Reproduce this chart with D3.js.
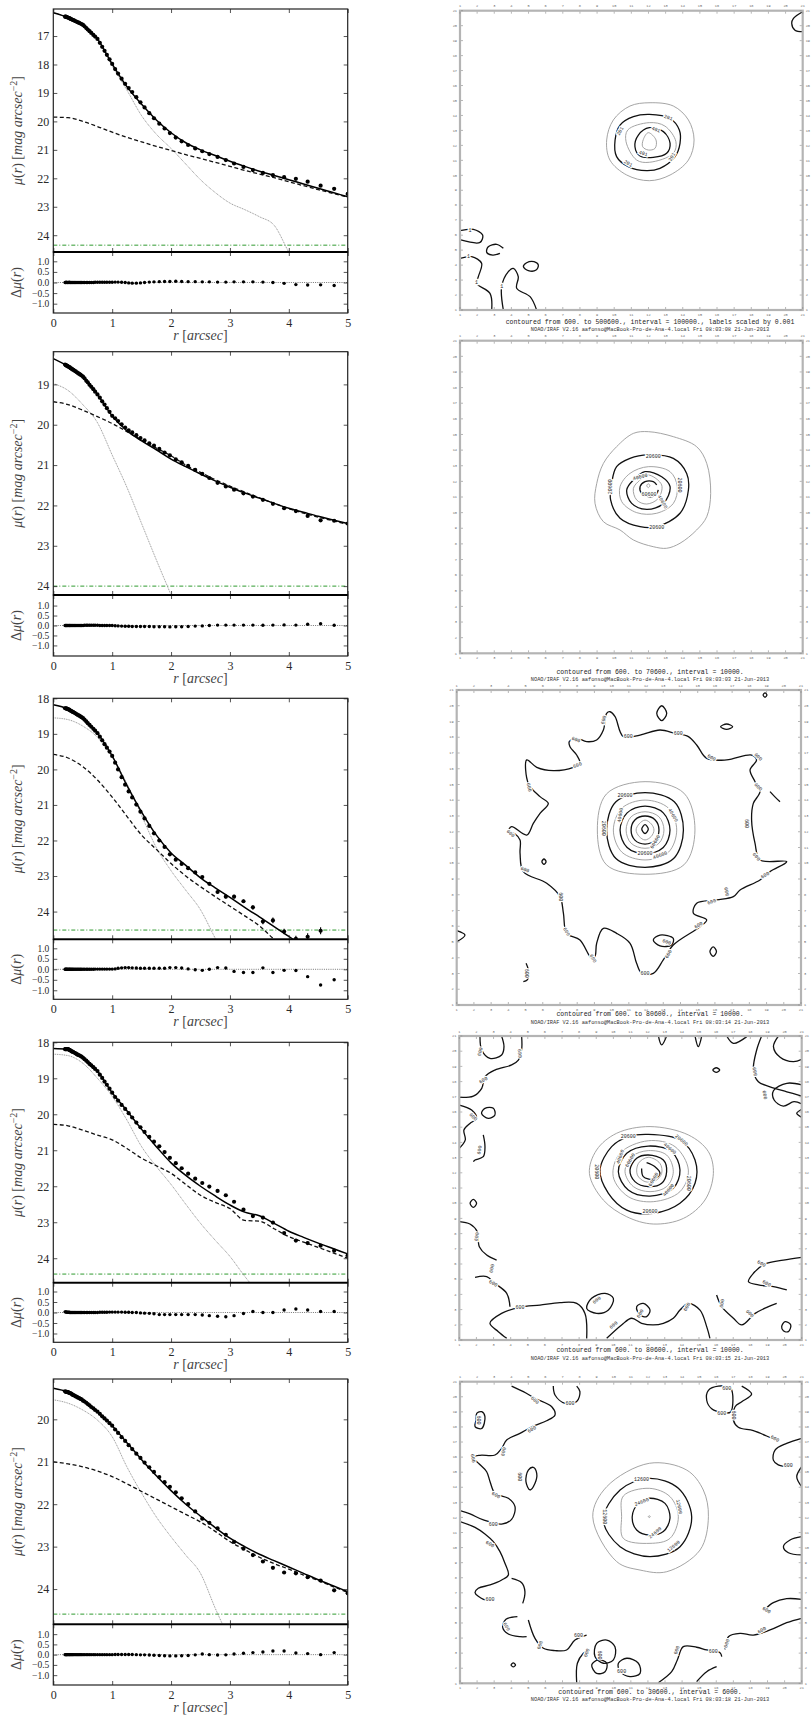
<!DOCTYPE html>
<html>
<head>
<meta charset="utf-8">
<script src="https://cdn.jsdelivr.net/npm/d3@7"></script>
<style>
body{margin:0;background:#fff;}
svg{display:block;}
.tk text{font-family:"Liberation Serif",serif;font-size:12px;fill:#2a2a2a;}
.tk.rs text{font-size:9.5px;}
.tk line{stroke:#2a2a2a;stroke-width:0.8;}
</style>
</head>
<body>
<script>
// ---- surface brightness profiles (left column) ----
var radii=[0.20,0.21,0.22,0.23,0.24,0.255,0.27,0.28,0.295,0.31,0.325,0.34,0.36,0.38,0.40,0.42,0.44,0.46,0.48,0.505,
0.53,0.56,0.585,0.615,0.645,0.68,0.71,0.75,0.79,0.83,0.87,0.91,0.955,1.00,1.05,1.10,1.16,1.22,1.28,1.34,
1.41,1.48,1.55,1.63,1.71,1.80,1.89,1.98,2.08,2.18,2.29,2.41,2.53,2.65,2.79,2.93,3.07,3.23,3.39,3.56,
3.73,3.92,4.12,4.32,4.54,4.77,5.00];

var mu1=[16.32,16.32,16.33,16.34,16.34,16.36,16.37,16.38,16.40,16.41,16.43,16.44,16.46,16.48,16.50,16.52,16.54,16.56,16.58,16.61,
16.66,16.72,16.77,16.83,16.89,16.96,17.02,17.10,17.24,17.38,17.52,17.66,17.82,17.98,
18.16,18.32,18.50,18.68,18.83,18.97,19.15,19.33,19.51,19.71,19.89,20.08,20.25,20.41,20.57,20.70,
20.83,20.95,21.05,21.15,21.25,21.36,21.48,21.60,21.71,21.81,21.89,21.96,22.02,22.12,22.26,22.37,22.55];
var res1=[0,0,0.01,0,0,0,0.01,0,0,0,0,0,0,0,0,0,0,0,0,0,0,0,0,0,0,0,0.01,0.01,0.01,0.01,0.01,0.01,0.01,0.01,
0.02,0.02,0.01,0,-0.02,-0.03,-0.03,-0.02,0,0.02,0.03,0.04,0.05,0.05,0.06,0.05,0.04,0.04,0.03,0.03,
0.02,0.02,0.03,0.03,0.03,0.02,0,-0.04,-0.1,-0.12,-0.11,-0.14,null];

var mu2=[18.51,18.52,18.53,18.54,18.54,18.56,18.57,18.58,18.60,18.61,18.63,18.64,18.66,18.68,18.70,18.72,18.74,18.76,18.78,18.81,
18.85,18.91,18.95,19.01,19.06,19.12,19.18,19.25,19.33,19.42,19.50,19.59,19.68,19.78,
19.84,19.91,19.99,20.07,20.14,20.19,20.26,20.33,20.39,20.46,20.52,20.60,20.69,20.76,20.86,20.93,
21.02,21.12,21.22,21.32,21.44,21.53,21.61,21.70,21.78,21.86,21.96,22.07,22.14,22.26,22.37,22.38,22.45];
var res2=[0,0,0,0,0,0,0,0,0,0,0,0,0,0,0,0,0,0,0,0,0.01,0.01,0.01,0.01,0.01,0.01,0.01,0.01,0,0,0,0,0,0,
-0.01,-0.02,-0.03,-0.04,-0.04,-0.05,-0.05,-0.05,-0.05,-0.05,-0.06,-0.06,-0.06,-0.07,-0.06,-0.06,-0.05,-0.03,-0.02,0,
0.02,0.02,0.02,0.02,0.02,0.01,0.02,0.03,0.02,0.06,0.09,0.01,null];

var mu3=[18.28,18.28,18.29,18.29,18.30,18.31,18.32,18.33,18.35,18.36,18.38,18.39,18.41,18.43,18.45,18.47,18.49,18.51,18.53,18.56,
18.60,18.65,18.70,18.75,18.80,18.86,18.91,18.98,19.08,19.18,19.29,19.39,19.50,19.62,
19.81,20.00,20.22,20.43,20.62,20.79,20.99,21.19,21.38,21.59,21.80,22.00,22.18,22.39,22.54,22.66,
22.78,22.90,23.03,23.22,23.45,23.58,23.58,23.71,23.88,24.28,24.25,24.56,24.77,24.71,24.54,25.02,null];
var res3=[0,0,0,0,0,0,0,0,0,0,0,0,0,0,0,0,0,0,0,0,0,0,0,0,0,0,0.01,0.01,0.01,0.01,0.01,0.01,0.01,0.01,
0.02,0.05,0.07,0.08,0.08,0.07,0.06,0.05,0.05,0.05,0.05,0.05,0.05,0.08,0.08,0.06,0.02,-0.02,-0.05,0,
0.08,0.06,-0.1,-0.15,-0.15,0.07,-0.15,-0.05,-0.06,-0.35,-0.75,-0.5,null];
var err3=[0,0,0,0,0,0,0,0,0,0,0,0,0,0,0,0,0,0,0,0,0,0,0,0,0,0,0,0,0,0,0,0,0,0,
0,0,0,0,0,0,0,0,0,0,0,0,0,0,0,0,0,0,0.03,0.03,
0.04,0.05,0.05,0.05,0.06,0.08,0.08,0.08,0.09,0.1,0.1,0.12,0];

var mu4=[18.19,18.19,18.19,18.19,18.19,18.19,18.21,18.22,18.23,18.25,18.26,18.27,18.29,18.31,18.33,18.35,18.36,18.38,18.40,18.43,
18.47,18.51,18.55,18.60,18.64,18.69,18.74,18.80,18.90,18.99,19.09,19.18,19.29,19.40,
19.52,19.62,19.74,19.85,19.97,20.09,20.23,20.36,20.49,20.63,20.76,20.89,21.05,21.21,21.36,21.50,
21.65,21.79,21.91,22.01,22.13,22.25,22.43,22.65,22.83,22.87,23.01,23.30,23.51,23.58,23.65,23.79,23.92];
var res4=[0.03,0.03,0.02,0.02,0.01,0.01,0.01,0,0,0,0,0,0,0,0,0,0,0,0,0,0,0,0,0,0,0,0,0,0.01,0.01,0.01,0.01,0.02,0.02,
0.02,0.02,0.02,0.01,0.01,0,0,-0.02,-0.03,-0.04,-0.06,-0.1,-0.1,-0.1,-0.1,-0.1,-0.1,-0.1,-0.12,-0.15,
-0.18,-0.2,-0.15,-0.05,0.05,0,0,0.12,0.17,0.12,0.05,0.05,null];

var mu5=[19.34,19.35,19.35,19.35,19.36,19.36,19.38,19.38,19.39,19.40,19.42,19.43,19.44,19.46,19.47,19.49,19.50,19.52,19.53,19.56,
19.58,19.61,19.64,19.67,19.71,19.74,19.78,19.82,19.87,19.93,19.98,20.03,20.09,20.15,
20.24,20.32,20.42,20.51,20.61,20.70,20.81,20.91,21.02,21.13,21.24,21.36,21.48,21.59,21.72,21.86,
22.00,22.17,22.34,22.44,22.57,22.72,22.89,23.05,23.20,23.35,23.50,23.61,23.63,23.72,23.80,24.03,24.10];
var res5=[0,0,0,0,0,0,0,0,0,0,0,0,0,0,0,0,0,0,0,0,0,0,0,0,0,0,0,0,0,0,0,0,0,0,
0.01,0.01,0.01,0.01,0.01,0.01,0,-0.01,-0.01,-0.02,-0.03,-0.04,-0.05,-0.06,-0.06,-0.05,-0.04,-0.01,0.03,0,
-0.02,-0.01,0.03,0.07,0.1,0.13,0.18,0.18,0.08,0.05,0,0.1,null];

// model components sampled on a coarse radius grid
var knot_r=[0,0.25,0.5,0.75,1,1.25,1.5,1.75,2,2.25,2.5,2.75,3,3.25,3.5,3.75,4,4.25,4.5,4.75,5];
var solid1=[16.18,16.35,16.6,17.1,17.98,18.78,19.4,19.95,20.4,20.75,21.0,21.2,21.4,21.58,21.75,21.9,22.05,22.2,22.35,22.5,22.65];
var dashed1=[19.85,19.87,20.0,20.18,20.38,20.56,20.72,20.88,21.02,21.17,21.3,21.44,21.58,21.72,21.85,21.98,22.12,22.26,22.4,22.53,22.66];
var dotted1=[16.18,16.35,16.6,17.1,18.05,18.9,19.8,20.45,20.95,21.5,22.05,22.5,22.87,23.1,23.35,23.65,24.6,25.5,26.3,27,27.6];
var solid2=[18.36,18.55,18.8,19.25,19.78,20.15,20.4,20.62,20.85,21.04,21.22,21.39,21.55,21.69,21.82,21.95,22.07,22.17,22.27,22.36,22.45];
var dashed2=[19.43,19.5,19.64,19.8,19.97,20.17,20.38,20.58,20.77,21.0,21.18,21.36,21.52,21.67,21.81,21.95,22.08,22.19,22.29,22.38,22.47];
var dotted2=[18.98,19.15,19.5,19.95,20.75,21.55,22.45,23.35,24.22,25.1,26,26.9,27.8,28.6,29.4,30.2,31,31.8,32.6,33.4,34.2];
var solid3=[18.18,18.3,18.55,18.98,19.62,20.45,21.2,21.85,22.35,22.7,23.05,23.33,23.6,23.88,24.15,24.42,24.7,24.98,25.25,25.5,25.75];
var dashed3=[19.58,19.68,19.92,20.3,20.78,21.32,21.85,22.25,22.65,23.0,23.3,23.58,23.85,24.12,24.4,24.78,25.1,25.4,25.7,26.0,26.3];
var dotted3=[18.55,18.6,18.78,19.1,19.65,20.4,21.3,22.2,22.85,23.4,23.95,24.75,25.5,26.2,26.9,27.6,28.3,29,29.7,30.4,31.1];
var solid4=[18.17,18.19,18.42,18.8,19.4,19.9,20.42,20.9,21.35,21.7,22.0,22.27,22.52,22.72,22.82,23.03,23.25,23.42,23.58,23.73,23.88];
var dashed4=[20.28,20.32,20.44,20.58,20.71,20.95,21.22,21.43,21.64,21.95,22.25,22.45,22.62,22.95,22.97,23.18,23.4,23.55,23.7,23.85,24.0];
var dotted4=[18.33,18.37,18.58,19.0,19.5,20.16,20.9,21.45,21.95,22.5,23.03,23.5,23.95,24.5,25.0,25.5,26,26.5,27,27.5,28];
var solid5=[19.27,19.36,19.55,19.82,20.15,20.55,20.95,21.33,21.68,22.0,22.28,22.55,22.8,23.0,23.18,23.33,23.48,23.63,23.78,23.92,24.06];
var dashed5=[21.0,21.05,21.12,21.22,21.35,21.52,21.7,21.88,22.06,22.24,22.42,22.64,22.88,23.07,23.25,23.4,23.53,23.67,23.8,23.94,24.08];
var dotted5=[19.54,19.62,19.78,20.02,20.41,21.12,21.74,22.3,22.77,23.2,23.63,24.45,25.2,25.9,26.6,27.3,28,28.7,29.4,30.1,30.8];
var skyLevel=[24.35,24.0,24.52,24.44,24.59];

var muTicks=[[17,18,19,20,21,22,23,24],[19,20,21,22,23,24],[18,19,20,21,22,23,24],[18,19,20,21,22,23,24],[20,21,22,23,24]];
var resTicks=[-1,-0.5,0,0.5,1];
var rTicks=[0,1,2,3,4,5];

// ---- isophote contour maps (right column), grid pixel coordinates ----
var gridTicks=[1,2,3,4,5,6,7,8,9,10,11,12,13,14,15,16,17,18,19,20,21];
var contours1=[
 {lev:"g",closed:1,pts:[[12.09,14.85],[13.45,14.63],[14.33,13.7],[14.66,12.36],[14.33,11.02],[13.26,10.02],[12.05,9.64],[10.73,10.02],[9.75,11.02],[9.56,12.36],[9.95,13.7],[10.92,14.63]]},
 {lev:"k",closed:1,pts:[[12.05,14.07],[13.26,13.8],[13.8,13.03],[13.84,12.14],[13.55,11.25],[12.67,10.47],[11.89,10.31],[10.82,10.58],[10.14,11.25],[10.05,12.36],[10.34,13.36],[11.12,13.92]]},
 {lev:"g",closed:1,pts:[[12.05,13.52],[12.96,13.29],[13.6,12.25],[13.45,11.47],[12.05,10.87],[11.31,11.02],[10.69,12.25],[10.79,13.03]]},
 {lev:"k",closed:1,pts:[[12.05,13.18],[12.87,12.92],[13.26,12.14],[13.06,11.47],[12.28,11.2],[11.51,11.29],[11.21,11.91],[11.41,12.69]]},
 {lev:"g",closed:1,pts:[[11.99,12.85],[12.44,12.36],[12.38,11.8],[11.99,11.69],[11.66,11.91],[11.7,12.4]]},
 {lev:"k",closed:0,pts:[[1,6.3],[1.78,6.39],[2.32,6.01],[2.17,5.52],[1.04,5.68]]},
 {lev:"k",closed:0,pts:[[3.53,5.12],[3.14,5.39],[2.65,5.23],[2.56,4.85],[2.91,4.67],[3.33,4.79]]},
 {lev:"k",closed:0,pts:[[1,4.45],[1.68,4.56],[2.26,4.12],[2.07,3.23],[1.97,2.78],[2.75,2.11],[2.85,1]]},
 {lev:"k",closed:0,pts:[[3.53,1],[3.43,2.56],[3.82,3.56],[4.11,3.78],[4.4,3.23],[4.31,2.45],[5.09,1.89],[5.47,1]]},
 {lev:"k",closed:1,pts:[[4.7,3.9],[4.89,4.16],[5.32,4.23],[5.57,4.01],[5.44,3.67],[4.99,3.63]]},
 {lev:"k",closed:0,pts:[[21,20.93],[20.46,20.49],[20.36,20.15],[20.55,19.7],[21,19.6]]}
];
var labels1=[[13.16,13.87,"201",20],[10.34,12.96,"201",-60],[10.82,10.8,"201",30],[13.35,11.24,"201",-60],
 [12.44,13.07,"401",20],[11.7,11.47,"401",15],[1.58,6.35,"1",0],[1.49,4.56,"1",0],[1.97,2.83,"1",0],[3.43,2.56,"1",0]];

var contours2=[
 {lev:"g",closed:1,pts:[[11.99,15.18],[13.45,14.86],[14.81,14.22],[15.4,13.15],[15.63,11.23],[15.4,9.74],[14.81,8.89],[13.84,8.04],[13.06,7.72],[12.28,7.82],[11.12,8.25],[10.34,8.89],[9.37,9.42],[8.88,10.59],[8.98,11.87],[9.37,13.15],[10.14,14.22],[11.12,15.07]]},
 {lev:"k",closed:1,pts:[[11.99,13.69],[13.45,13.47],[14.23,12.51],[14.33,11.45],[13.84,9.96],[12.48,9.1],[11.51,9.1],[10.34,9.64],[9.79,10.81],[9.85,11.87],[10.14,12.94],[10.92,13.47]]},
 {lev:"g",closed:1,pts:[[11.99,12.94],[13.26,12.62],[13.68,11.66],[13.45,10.59],[12.48,9.96],[11.31,10.0],[10.44,10.7],[10.34,11.66],[10.92,12.51]]},
 {lev:"k",closed:1,pts:[[11.8,12.62],[12.77,12.3],[13.26,11.66],[12.87,10.59],[11.9,10.21],[11.02,10.59],[10.73,11.45],[11.12,12.09]]},
 {lev:"g",closed:1,pts:[[11.99,12.41],[12.77,11.77],[12.57,10.91],[11.9,10.55],[11.31,10.81],[11.12,11.55],[11.51,12.09]]},
 {lev:"k",closed:0,pts:[[12.48,11.77],[12.28,11.98],[11.8,11.98],[11.51,11.66],[11.6,11.23],[11.99,11.02],[12.44,11.13],[12.57,11.45]]},
 {lev:"g",closed:1,pts:[[11.99,11.85],[12.08,11.72],[11.99,11.6],[11.9,11.72]]}
];
var labels2=[[12.28,13.62,"20600",0],[9.79,11.66,"20600",-90],[13.84,11.77,"20600",90],[12.48,9.06,"20600",0],
 [11.51,12.3,"40600",-15],[12.83,10.7,"40600",60],[12.03,11.19,"60600",0]];

var contours3=[
 {lev:"g",closed:1,pts:[[11.94,15.18],[14.2,14.45],[14.84,12.11],[14.2,9.9],[11.94,9.3],[9.7,9.9],[9.17,12.11],[9.7,14.4]]},
 {lev:"k",closed:1,pts:[[11.94,14.48],[13.64,13.9],[14.17,12.11],[13.6,10.3],[11.94,9.74],[10.25,10.3],[9.71,12.11],[10.25,13.9]]},
 {lev:"g",closed:1,pts:[[11.94,14.01],[13.3,13.5],[13.78,12.11],[13.3,10.7],[11.94,10.21],[10.6,10.7],[10.1,12.11],[10.6,13.5]]},
 {lev:"k",closed:1,pts:[[11.94,13.63],[13.0,13.2],[13.39,12.11],[13.0,11.0],[11.94,10.59],[10.9,11.0],[10.49,12.11],[10.9,13.2]]},
 {lev:"g",closed:1,pts:[[11.94,13.27],[12.75,12.95],[13.04,12.11],[12.75,11.27],[11.94,10.95],[11.13,11.27],[10.84,12.11],[11.13,12.95]]},
 {lev:"k",closed:1,pts:[[11.94,13.0],[12.53,12.75],[12.75,12.11],[12.53,11.47],[11.94,11.22],[11.35,11.47],[11.13,12.11],[11.35,12.75]]},
 {lev:"g",closed:1,pts:[[11.94,12.74],[12.3,12.5],[12.46,12.11],[12.3,11.7],[11.94,11.48],[11.6,11.7],[11.42,12.11],[11.6,12.5]]},
 {lev:"k",closed:1,pts:[[11.94,12.45],[12.13,12.17],[11.94,11.89],[11.75,12.17]]},
 {lev:"k",closed:1,pts:[[9.91,19.62],[10.2,19.31],[10.68,18.04],[11.65,18.14],[12.81,18.46],[13.68,18.25],[14.46,18.04],[14.94,17.51],[15.52,16.66],[16.68,16.56],[18.13,16.87],[18.42,16.56],[18.04,15.92],[18.33,15.18],[18.62,14.55],[18.23,13.8],[18.13,12.75],[18.33,11.26],[18.62,10.21],[20.17,10.1],[19.2,9.47],[18.62,8.94],[17.46,8.3],[17.07,7.88],[16.1,7.67],[14.94,7.46],[14.75,6.82],[15.52,6.4],[15.13,5.97],[13.58,4.81],[13.0,3.86],[12.42,3.01],[11.75,3.01],[11.45,3.65],[11.07,4.92],[10.29,5.55],[9.52,5.87],[9.13,4.92],[9.03,4.07],[8.84,3.96],[8.16,5.13],[7.39,5.55],[7.2,6.82],[7.0,7.88],[6.23,8.73],[4.87,9.47],[4.68,10.63],[4.68,11.48],[4.39,11.86],[4.0,12.0],[4.19,12.32],[5.07,11.79],[5.45,12.53],[5.84,13.17],[6.32,13.8],[5.84,14.23],[5.16,15.07],[5.07,16.56],[5.65,16.09],[6.61,15.88],[7.78,16.09],[8.16,16.34],[7.97,16.87],[7.58,17.4],[7.54,17.72],[7.97,17.93],[8.55,17.72],[9.13,17.83],[9.52,18.46],[9.71,19.52]]},
 {lev:"k",closed:1,pts:[[12.91,20.0],[13.2,19.52],[12.91,19.05],[12.62,19.52]]},
 {lev:"k",closed:1,pts:[[16.68,18.84],[17.03,18.67],[16.68,18.5],[16.33,18.67]]},
 {lev:"k",closed:1,pts:[[6.07,10.27],[6.19,10.1],[6.07,9.93],[5.95,10.1]]},
 {lev:"k",closed:1,pts:[[15.9,4.69],[16.09,4.39],[15.9,4.09],[15.71,4.39]]},
 {lev:"k",closed:1,pts:[[12.42,5.13],[12.81,5.44],[13.58,5.23],[13.48,4.81],[12.81,4.75]]},
 {lev:"k",closed:0,pts:[[1,5.72],[1.48,5.44],[1,5.02]]},
 {lev:"k",closed:0,pts:[[5.03,3.65],[5.16,3.22],[5.1,2.59],[4.87,2.48]]},
 {lev:"k",closed:0,pts:[[19.2,14.55],[19.5,14.2],[19.78,13.91]]},
 {lev:"k",closed:1,pts:[[18.91,20.82],[19.02,20.68],[18.91,20.54],[18.8,20.68]]}
];
var labels3=[[10.78,14.33,"20600",0],[9.52,12.22,"20600",90],[11.94,10.63,"20600",0],[13.58,13.06,"40600",60],
 [10.49,13.06,"40600",-80],[12.52,11.37,"60600",-60],[12.81,10.52,"40600",-20],
 [9.52,19.1,"600",-75],[10.97,18.04,"600",0],[13.87,18.25,"600",0],[15.81,16.72,"600",30],[18.52,16.77,"600",45],
 [18.52,14.86,"600",45],[17.84,12.53,"600",90],[18.42,10.42,"600",50],[18.91,9.25,"600",-30],[16.68,8.2,"600",80],
 [15.81,7.56,"600",-20],[15.04,6.08,"600",-30],[13.29,4.24,"600",-60],[11.94,3.01,"600",0],[8.94,3.96,"600",60],
 [7.39,5.66,"600",60],[7.04,7.88,"600",90],[4.97,9.61,"600",20],[4.14,11.9,"600",40],[5.22,14.82,"600",80],
 [8.01,16.24,"600",-20],[7.93,17.87,"600",20],[13.2,5.02,"600",20],[5.07,3.01,"600",90]];

var contours4=[
 {lev:"g",closed:1,pts:[[12.14,15.04],[14.38,14.49],[15.55,13.39],[15.84,11.96],[15.35,10.21],[14.09,9.0],[12.33,8.63],[10.78,9.11],[9.41,10.21],[8.6,11.96],[9.02,13.5],[10.19,14.6]]},
 {lev:"k",closed:1,pts:[[12.04,14.53],[13.89,14.16],[14.77,12.84],[14.77,11.31],[13.89,9.99],[12.33,9.33],[10.78,9.55],[9.71,10.65],[9.22,12.18],[9.9,13.72],[10.87,14.38]]},
 {lev:"g",closed:1,pts:[[12.04,14.11],[13.6,13.72],[14.38,12.18],[13.89,10.76],[12.33,10.1],[10.87,10.43],[9.99,11.75],[10.38,13.28]]},
 {lev:"k",closed:1,pts:[[12.04,13.76],[13.4,13.39],[13.89,12.18],[13.5,10.98],[12.14,10.47],[10.87,10.87],[10.29,12.07],[10.78,13.28]]},
 {lev:"g",closed:1,pts:[[12.04,13.46],[13.11,13.17],[13.5,12.07],[13.11,11.09],[12.14,10.76],[11.17,11.09],[10.68,12.07],[11.07,13.06]]},
 {lev:"k",closed:1,pts:[[12.04,13.17],[12.92,12.84],[13.11,12.07],[12.82,11.31],[12.04,11.09],[11.26,11.42],[10.97,12.18],[11.36,12.95]]},
 {lev:"g",closed:1,pts:[[12.04,13.02],[12.72,12.62],[12.82,11.96],[12.43,11.46],[11.85,11.42],[11.4,11.86],[11.46,12.62]]},
 {lev:"k",closed:0,pts:[[11.94,12.67],[12.43,12.4],[12.72,11.96],[12.33,11.57],[11.75,11.75],[11.65,12.29]]},
 {lev:"k",closed:0,pts:[[2.21,21],[2.31,20.08],[2.79,19.53],[3.47,19.75],[3.61,20.3],[3.47,21]]},
 {lev:"k",closed:0,pts:[[4.64,21],[4.64,20.08],[4.45,19.42],[4.06,19.1],[3.08,18.76],[2.5,18.32],[2.31,17.56],[1.82,17.05],[1,16.96]]},
 {lev:"k",closed:0,pts:[[1,16.46],[1.72,16.13],[2.01,15.58],[1.62,15.25],[1.27,14.82],[1.35,14.16],[1,13.61]]},
 {lev:"k",closed:1,pts:[[2.5,16.24],[2.99,16.24],[3.08,15.8],[2.69,15.58],[2.3,15.91]]},
 {lev:"k",closed:0,pts:[[2.4,14.49],[2.5,13.72],[2.4,13.06],[1.92,12.84],[1.82,12.73]]},
 {lev:"k",closed:1,pts:[[1.82,10.25],[2.01,9.99],[1.82,9.73],[1.63,9.99]]},
 {lev:"k",closed:0,pts:[[1,8.79],[1.62,8.63],[2.05,8.13],[2.17,7.14],[2.6,6.59],[3.18,6.26]]},
 {lev:"k",closed:0,pts:[[1.92,5.12],[2.6,5.17],[3.08,4.73],[3.77,4.07],[3.96,3.19]]},
 {lev:"k",closed:0,pts:[[3.77,1.11],[3.28,1.55],[2.79,2.1],[3.47,2.75],[4.54,3.15],[5.71,3.3],[6.88,3.46],[7.86,3.41],[8.34,2.75],[8.44,1.1]]},
 {lev:"k",closed:1,pts:[[8.44,3.08],[8.73,3.74],[9.51,4.07],[10.0,3.74],[9.71,2.97],[9.02,2.75]]},
 {lev:"k",closed:0,pts:[[9.61,1.11],[10.48,1.99],[11.07,2.43],[11.65,2.1],[12.33,1.99],[12.92,2.1],[13.5,2.43],[13.89,2.97],[14.38,3.41],[15.06,2.97],[15.45,1.88],[15.64,1.11]]},
 {lev:"k",closed:1,pts:[[11.36,3.19],[11.75,3.41],[12.14,2.97],[11.94,2.54],[11.55,2.64]]},
 {lev:"k",closed:0,pts:[[16.03,3.96],[16.33,3.19],[17.01,2.43],[17.5,1.99],[18.28,2.75],[18.96,3.15],[19.54,3.41]]},
 {lev:"k",closed:1,pts:[[19.83,1.88],[20.03,2.21],[20.36,1.99],[20.22,1.55],[19.93,1.61]]},
 {lev:"k",closed:0,pts:[[21,6.44],[19.93,6.26],[18.86,6.0],[18.18,5.39],[17.89,4.84],[18.47,4.62],[19.35,4.51],[20.13,4.29]]},
 {lev:"k",closed:0,pts:[[12.63,21],[12.82,20.41],[13.11,21]]},
 {lev:"k",closed:0,pts:[[14.77,21],[14.96,20.3],[15.16,21]]},
 {lev:"k",closed:0,pts:[[16.62,21],[17.01,20.52],[17.79,20.96]]},
 {lev:"k",closed:0,pts:[[18.66,21],[18.37,20.08],[18.18,18.76],[18.47,17.99],[19.15,17.66],[20.13,17.33],[21,17.05]]},
 {lev:"k",closed:0,pts:[[19.64,21],[19.35,20.3],[19.74,19.6],[20.51,19.31],[21,19.46]]},
 {lev:"k",closed:0,pts:[[21,17.78],[20.13,17.89],[19.35,17.4],[19.39,16.79],[19.93,16.39],[20.55,16.68],[21,16.53]]},
 {lev:"k",closed:0,pts:[[21,16.18],[20.71,15.91],[21,15.65]]},
 {lev:"k",closed:1,pts:[[16.01,18.91],[16.21,18.76],[16.01,18.61],[15.81,18.76]]}
];
var labels4=[[10.87,14.42,"20600",0],[9.02,12.07,"20600",90],[13.99,14.16,"20600",40],[14.38,11.31,"20600",90],[12.14,9.44,"20600",0],
 [10.39,13.06,"40600",-70],[13.31,13.61,"40600",40],[13.21,10.87,"40600",-50],[10.97,12.84,"60600",-60],[12.33,11.57,"60600",-60],
 [2.21,19.97,"600",-75],[2.4,18.1,"600",-30],[4.54,19.86,"600",85],[1.82,15.69,"600",45],[2.17,13.5,"600",-80],
 [2.01,7.8,"600",-80],[2.89,5.71,"600",-80],[2.99,4.73,"600",30],[4.54,3.15,"600",0],[9.02,3.63,"600",-40],
 [11.55,2.75,"600",-60],[10.0,1.99,"600",-40],[14.28,3.19,"600",-60],[16.33,3.41,"600",-80],[17.98,2.75,"600",45],
 [18.66,6.04,"600",30],[18.96,4.73,"600",30],[18.27,18.65,"600",80],[18.86,17.12,"600",80]];

var contours5=[
 {lev:"g",closed:1,pts:[[12.08,15.59],[14.27,15.14],[15.24,13.82],[15.54,12.05],[15.05,9.84],[13.1,8.4],[11.54,8.51],[10.17,9.07],[8.77,12.05],[9.59,14.04]]},
 {lev:"k",closed:1,pts:[[12.08,14.59],[13.78,13.93],[14.56,12.05],[13.88,10.06],[12.12,9.4],[10.37,10.06],[9.39,11.83],[10.37,13.82]]},
 {lev:"g",closed:1,pts:[[12.08,13.93],[13.29,13.38],[13.78,12.05],[13.29,10.61],[12.12,10.28],[10.56,10.61],[10.46,12.05],[10.56,13.42]]},
 {lev:"k",closed:1,pts:[[12.08,13.27],[13.0,12.93],[13.29,11.94],[12.9,11.06],[12.12,10.83],[11.34,11.17],[11.08,12.05],[11.44,12.93]]},
 {lev:"g",closed:1,pts:[[12.08,12.11],[12.14,12.05],[12.08,11.99],[12.02,12.05]]},
 {lev:"k",closed:0,pts:[[4.02,20.71],[4.71,20.34],[5.39,19.9],[6.37,19.34],[6.56,18.79],[6.07,18.41],[5.29,18.06],[4.51,17.57],[3.73,17.13],[3.44,16.58],[3.05,16.14],[2.17,16.12],[1.78,15.98],[2.13,15.54],[2.56,15.03],[2.76,14.37],[3.05,13.6],[3.83,13.27],[4.22,12.71],[4.02,11.87],[3.44,11.56],[2.37,11.83],[1.59,12.23],[1.0,12.45]]},
 {lev:"k",closed:0,pts:[[6.46,20.71],[6.56,20.12],[7.15,19.56],[7.83,19.68],[8.02,20.34],[7.83,20.71]]},
 {lev:"k",closed:1,pts:[[1.98,18.9],[2.27,19.01],[2.46,18.68],[2.27,17.9],[1.88,18.02],[1.94,18.46]]},
 {lev:"k",closed:1,pts:[[5.0,15.14],[5.29,15.32],[5.49,14.92],[5.39,14.26],[5.1,13.82],[4.86,14.37]]},
 {lev:"k",closed:0,pts:[[1.0,11.72],[1.88,11.34],[2.46,10.9],[2.95,10.39],[3.34,9.73],[3.63,8.96],[3.83,8.18],[3.44,7.85],[2.76,7.52],[2.07,7.3],[1.88,7.01],[2.37,6.57],[2.76,6.52]]},
 {lev:"k",closed:0,pts:[[4.02,7.96],[4.61,7.67],[4.8,7.08],[4.67,6.3]]},
 {lev:"k",closed:0,pts:[[4.36,5.42],[3.69,5.24],[3.5,4.71],[3.83,4.27],[4.51,4.09],[4.9,4.09]]},
 {lev:"k",closed:0,pts:[[5.0,5.2],[5.39,3.98],[5.88,3.32],[6.56,3.17],[7.24,3.21],[7.73,3.87],[8.41,4.2]]},
 {lev:"k",closed:1,pts:[[9.0,3.65],[9.59,3.87],[10.07,3.43],[9.98,2.55],[9.39,2.33],[8.9,2.77]]},
 {lev:"k",closed:1,pts:[[8.71,2.22],[9.1,2.55],[9.59,2.33],[9.49,1.77],[9.0,1.66]]},
 {lev:"k",closed:1,pts:[[10.27,2.33],[10.76,2.66],[11.44,2.33],[11.54,1.66],[10.95,1.44],[10.37,1.77]]},
 {lev:"k",closed:0,pts:[[7.83,1.04],[7.87,2.33],[8.22,2.99],[8.51,3.21]]},
 {lev:"k",closed:0,pts:[[12.61,1.04],[13.39,1.77],[13.72,2.55],[14.07,3.43],[14.85,3.39],[15.44,3.21],[16.22,3.03],[16.32,2.77]]},
 {lev:"k",closed:0,pts:[[14.85,1.11],[15.44,1.77],[16.02,2.1]]},
 {lev:"k",closed:0,pts:[[16.51,3.25],[16.71,4.09],[17.39,4.31],[18.17,4.2],[19.15,4.54],[20.12,5.02],[21.0,5.31]]},
 {lev:"k",closed:0,pts:[[21,6.57],[20.12,6.61],[19.34,6.35],[18.85,5.9]]},
 {lev:"k",closed:0,pts:[[21,10.72],[20.32,10.5],[19.93,10.06],[20.22,9.66],[21,9.51]]},
 {lev:"k",closed:0,pts:[[21,15.36],[20.71,14.7],[21,14.04]]},
 {lev:"k",closed:0,pts:[[21,17.24],[20.12,16.91],[19.44,16.47],[19.34,15.8],[19.63,15.48],[20.12,15.36]]},
 {lev:"k",closed:1,pts:[[16.84,20.58],[16.12,20.71],[15.54,20.43],[15.44,19.77],[15.73,19.21],[16.41,18.95],[16.84,18.99]]},
 {lev:"k",closed:0,pts:[[17.49,20.71],[18.07,20.18],[17.49,19.67],[17.1,19.34],[17.0,18.46],[17.29,17.98],[18.17,17.75],[19.05,17.35],[19.54,17.09]]},
 {lev:"k",closed:1,pts:[[4.12,2.35],[4.25,2.22],[4.12,2.09],[3.99,2.22]]}
];
var labels5=[[11.63,14.52,"12600",0],[13.84,12.71,"12600",80],[9.49,12.05,"12600",90],[13.49,10.1,"12600",-40],
 [11.63,13.04,"24600",-20],[12.41,10.99,"24600",-40],
 [5.39,19.78,"600",40],[5.2,17.84,"600",-30],[3.54,16.36,"600",-80],[1.78,15.92,"600",80],[3.11,13.49,"600",30],
 [2.95,11.56,"600",0],[2.76,10.24,"600",30],[4.51,14.7,"600",90],[2.76,6.57,"600",0],[3.73,4.76,"600",60],
 [5.68,3.54,"600",-70],[7.93,4.2,"600",0],[8.41,3.03,"600",-70],[9.2,2.88,"600",90],[10.46,1.77,"600",0],
 [13.68,3.21,"600",-70],[15.83,3.1,"600",0],[16.61,3.65,"600",-70],[18.66,4.54,"600",-30],[18.95,5.86,"600",30],
 [20.22,15.48,"600",0],[19.44,17.24,"600",30],[16.61,20.56,"600",0],[16.32,18.9,"600",0],[17.04,18.79,"600",90],
 [7.44,19.56,"600",0],[2.07,18.46,"600",90]];

var contourNote=["contoured from 600. to 500600., interval = 100000., labels scaled by 0.001",
 "contoured from 600. to 70600., interval = 10000.",
 "contoured from 600. to 80600., interval = 10000.",
 "contoured from 600. to 80600., interval = 10000.",
 "contoured from 600. to 30600., interval = 6000."];
var irafStamp=["NOAO/IRAF V2.16 aafonso@MacBook-Pro-de-Ana-4.local Fri 08:03:08 21-Jun-2013",
 "NOAO/IRAF V2.16 aafonso@MacBook-Pro-de-Ana-4.local Fri 08:03:03 21-Jun-2013",
 "NOAO/IRAF V2.16 aafonso@MacBook-Pro-de-Ana-4.local Fri 08:03:14 21-Jun-2013",
 "NOAO/IRAF V2.16 aafonso@MacBook-Pro-de-Ana-4.local Fri 08:03:15 21-Jun-2013",
 "NOAO/IRAF V2.16 aafonso@MacBook-Pro-de-Ana-4.local Fri 08:03:18 21-Jun-2013"];

// ---------------- drawing ----------------
var svg=d3.select("body").append("svg").attr("width",811).attr("height",1719);
var defs=svg.append("defs");

var prof=[
 {mu:mu1,res:res1,err:null,solid:solid1,dashed:dashed1,dotted:dotted1},
 {mu:mu2,res:res2,err:null,solid:solid2,dashed:dashed2,dotted:dotted2},
 {mu:mu3,res:res3,err:err3,solid:solid3,dashed:dashed3,dotted:dotted3},
 {mu:mu4,res:res4,err:null,solid:solid4,dashed:dashed4,dotted:dotted4},
 {mu:mu5,res:res5,err:null,solid:solid5,dashed:dashed5,dotted:dotted5}
];
var px0=53.3,px1=347.7;
var mainTop=[9,351.7,698.3,1042.3,1379],mainBot=[252,595,939.3,1282.7,1624.3],resBot=[313,656,999.3,1342.3,1685];
var muDom=[[16.05,24.59],[18.19,24.22],[18.0,24.78],[18.0,24.68],[19.05,24.83]];
var resLim=[1.44,1.53,1.43,1.42,1.48];

function clean(sel){sel.attr("class","tk");sel.select(".domain").remove();}
function cleanRes(sel){sel.attr("class","tk rs");sel.select(".domain").remove();}

prof.forEach(function(p,i){
	var x=d3.scaleLinear().domain([0,5]).range([px0,px1]);
	var y=d3.scaleLinear().domain(muDom[i]).range([mainTop[i],mainBot[i]]);
	var yr=d3.scaleLinear().domain([resLim[i],-resLim[i]]).range([mainBot[i],resBot[i]]);
	var g=svg.append("g");
	defs.append("clipPath").attr("id","cm"+i).append("rect").attr("x",px0).attr("y",mainTop[i]).attr("width",px1-px0).attr("height",mainBot[i]-mainTop[i]);
	defs.append("clipPath").attr("id","cr"+i).append("rect").attr("x",px0).attr("y",mainBot[i]).attr("width",px1-px0).attr("height",resBot[i]-mainBot[i]);

	var lm=g.append("g").attr("clip-path","url(#cm"+i+")");
	var mline=d3.line().curve(d3.curveMonotoneX).x(function(d,j){return x(knot_r[j]);}).y(function(d){return y(d);});
	lm.append("line").attr("x1",px0).attr("x2",px1).attr("y1",y(skyLevel[i])).attr("y2",y(skyLevel[i]))
		.attr("stroke","#2f9a2f").attr("stroke-width",1).attr("stroke-dasharray","4,2,1,2");
	lm.append("path").attr("d",mline(p.dotted)).attr("fill","none").attr("stroke","#8a8a8a").attr("stroke-width",0.9).attr("stroke-dasharray","1,0.8");
	lm.append("path").attr("d",mline(p.dashed)).attr("fill","none").attr("stroke","#111").attr("stroke-width",1.3).attr("stroke-dasharray","4,2.5");
	lm.append("path").attr("d",mline(p.solid)).attr("fill","none").attr("stroke","#000").attr("stroke-width",1.5);
	var pts=radii.map(function(r,j){return {r:r,m:p.mu[j],e:p.err?p.err[j]:0};}).filter(function(d){return d.m!=null;});
	lm.selectAll("line.eb").data(pts.filter(function(d){return d.e>0;})).enter().append("line").attr("class","eb")
		.attr("x1",function(d){return x(d.r);}).attr("x2",function(d){return x(d.r);})
		.attr("y1",function(d){return y(d.m-d.e);}).attr("y2",function(d){return y(d.m+d.e);})
		.attr("stroke","#000").attr("stroke-width",1.1);
	lm.selectAll("circle").data(pts).enter().append("circle")
		.attr("cx",function(d){return x(d.r);}).attr("cy",function(d){return y(d.m);}).attr("r",2.1).attr("fill","#000");

	var lr=g.append("g").attr("clip-path","url(#cr"+i+")");
	lr.append("line").attr("x1",px0).attr("x2",px1).attr("y1",yr(0)).attr("y2",yr(0)).attr("stroke","#777").attr("stroke-width",1).attr("stroke-dasharray","1,1.2");
	var rp=radii.map(function(r,j){return {r:r,v:p.res[j]};}).filter(function(d){return d.v!=null;});
	lr.selectAll("circle").data(rp).enter().append("circle")
		.attr("cx",function(d){return x(d.r);}).attr("cy",function(d){return yr(d.v);}).attr("r",1.7).attr("fill","#000");

	// axes (ticks inside, matplotlib classic look)
	g.append("g").attr("transform","translate("+px0+",0)").call(d3.axisLeft(y).tickValues(muTicks[i]).tickSize(-4).tickPadding(4).tickFormat(d3.format("d"))).call(clean);
	g.append("g").attr("transform","translate("+px1+",0)").call(d3.axisRight(y).tickValues(muTicks[i]).tickSize(-4).tickFormat("")).call(clean);
	g.append("g").attr("transform","translate(0,"+mainTop[i]+")").call(d3.axisTop(x).tickValues(rTicks).tickSize(-4).tickFormat("")).call(clean);
	g.append("g").attr("transform","translate(0,"+mainBot[i]+")").call(d3.axisBottom(x).tickValues(rTicks).tickSize(-4).tickFormat("")).call(clean);
	g.append("g").attr("transform","translate(0,"+mainBot[i]+")").call(d3.axisTop(x).tickValues(rTicks).tickSize(-4).tickFormat("")).call(clean);
	g.append("g").attr("transform","translate("+px0+",0)").call(d3.axisLeft(yr).tickValues(resTicks).tickSize(-4).tickPadding(4).tickFormat(d3.format(".1f"))).call(cleanRes);
	g.append("g").attr("transform","translate("+px1+",0)").call(d3.axisRight(yr).tickValues(resTicks).tickSize(-4).tickFormat("")).call(clean);
	g.append("g").attr("transform","translate(0,"+resBot[i]+")").call(d3.axisBottom(x).tickValues(rTicks).tickSize(-4).tickPadding(5).tickFormat(d3.format("d"))).call(clean);

	g.append("rect").attr("x",px0).attr("y",mainTop[i]).attr("width",px1-px0).attr("height",mainBot[i]-mainTop[i]).attr("fill","none").attr("stroke","#222").attr("stroke-width",1.2);
	g.append("rect").attr("x",px0).attr("y",mainBot[i]).attr("width",px1-px0).attr("height",resBot[i]-mainBot[i]).attr("fill","none").attr("stroke","#222").attr("stroke-width",1.2);
	g.append("line").attr("x1",px0).attr("x2",px1).attr("y1",mainBot[i]).attr("y2",mainBot[i]).attr("stroke","#000").attr("stroke-width",1.8);

	// axis labels
	var yl=g.append("text").attr("transform","translate(22,"+((mainTop[i]+mainBot[i])/2)+") rotate(-90)")
		.attr("text-anchor","middle").attr("font-family","Liberation Serif, serif").attr("font-size",14).attr("fill","#444");
	yl.append("tspan").attr("font-style","italic").text("μ");
	yl.append("tspan").text("(");
	yl.append("tspan").attr("font-style","italic").text("r");
	yl.append("tspan").text(") [");
	yl.append("tspan").attr("font-style","italic").text("mag arcsec");
	yl.append("tspan").attr("dy",-5).attr("font-size",10).text("−2");
	yl.append("tspan").attr("dy",5).text("]");
	var dl=g.append("text").attr("transform","translate(21,"+((mainBot[i]+resBot[i])/2)+") rotate(-90)")
		.attr("text-anchor","middle").attr("font-family","Liberation Serif, serif").attr("font-size",14).attr("fill","#444");
	dl.append("tspan").text("Δ");
	dl.append("tspan").attr("font-style","italic").text("μ");
	dl.append("tspan").text("(");
	dl.append("tspan").attr("font-style","italic").text("r");
	dl.append("tspan").text(")");
	var xl=g.append("text").attr("x",(px0+px1)/2).attr("y",resBot[i]+27).attr("text-anchor","middle")
		.attr("font-family","Liberation Serif, serif").attr("font-size",14).attr("fill","#444");
	xl.append("tspan").attr("font-style","italic").text("r");
	xl.append("tspan").text(" [");
	xl.append("tspan").attr("font-style","italic").text("arcsec");
	xl.append("tspan").text("]");
});

// contour maps
var cmaps=[{c:contours1,l:labels1},{c:contours2,l:labels2},{c:contours3,l:labels3},{c:contours4,l:labels4},{c:contours5,l:labels5}];
var cFrame=[[460,10.7,802.7,310],[460,340.7,802.7,653.3],[456.7,690,801,1005],[459.3,1036,801.7,1340],[460,1381.7,801.7,1683.3]];
var note1Y=[323.5,673.5,1016,1352,1693.5],note2Y=[330.5,681,1024,1359.5,1700.5];

cmaps.forEach(function(m,i){
	var f=cFrame[i];
	var gx=d3.scaleLinear().domain([1,21]).range([f[0],f[2]]);
	var gy=d3.scaleLinear().domain([1,21]).range([f[3],f[1]]);
	var g=svg.append("g");
	defs.append("clipPath").attr("id","cc"+i).append("rect").attr("x",f[0]).attr("y",f[1]).attr("width",f[2]-f[0]).attr("height",f[3]-f[1]);
	var gc=g.append("g").attr("clip-path","url(#cc"+i+")");
	var open=d3.line().curve(d3.curveCatmullRom.alpha(0.5)).x(function(d){return gx(d[0]);}).y(function(d){return gy(d[1]);});
	var closed=d3.line().curve(d3.curveCatmullRomClosed.alpha(0.5)).x(function(d){return gx(d[0]);}).y(function(d){return gy(d[1]);});
	gc.selectAll("path").data(m.c).enter().append("path")
		.attr("d",function(d){return d.closed?closed(d.pts):open(d.pts);})
		.attr("fill","none")
		.attr("stroke",function(d){return d.lev=="k"?"#111":"#9a9a9a";})
		.attr("stroke-width",function(d){return d.lev=="k"?1.3:0.9;});
	gc.selectAll("text").data(m.l).enter().append("text")
		.attr("transform",function(d){return "translate("+gx(d[0])+","+gy(d[1])+") rotate("+d[3]+")";})
		.attr("text-anchor","middle").attr("dy","0.35em")
		.attr("font-family","Liberation Mono, DejaVu Sans Mono, monospace").attr("font-size",5)
		.attr("fill","#222").attr("stroke","#fff").attr("stroke-width",2.4).attr("paint-order","stroke")
		.text(function(d){return d[2];});

	// frame and tiny grid ticks
	g.append("rect").attr("x",f[0]).attr("y",f[1]).attr("width",f[2]-f[0]).attr("height",f[3]-f[1])
		.attr("fill","none").attr("stroke","#b4b4b4").attr("stroke-width",2.2);
	var tg=g.append("g").attr("font-family","Liberation Mono, monospace").attr("font-size",3.6).attr("fill","#666");
	tg.selectAll("text.t").data(gridTicks).enter().append("text").attr("class","t")
		.attr("x",function(d){return gx(d);}).attr("y",f[1]-3.5).attr("text-anchor","middle").text(function(d){return d;});
	tg.selectAll("text.b").data(gridTicks).enter().append("text").attr("class","b")
		.attr("x",function(d){return gx(d);}).attr("y",f[3]+6).attr("text-anchor","middle").text(function(d){return d;});
	tg.selectAll("text.l").data(gridTicks).enter().append("text").attr("class","l")
		.attr("x",f[0]-3).attr("y",function(d){return gy(d)+1.2;}).attr("text-anchor","end").text(function(d){return d;});
	tg.selectAll("text.r").data(gridTicks).enter().append("text").attr("class","r")
		.attr("x",f[2]+3).attr("y",function(d){return gy(d)+1.2;}).attr("text-anchor","start").text(function(d){return d;});
	var tk=g.append("g").attr("stroke","#888").attr("stroke-width",0.6);
	gridTicks.forEach(function(v){
		tk.append("line").attr("x1",gx(v)).attr("x2",gx(v)).attr("y1",f[1]+1).attr("y2",f[1]+3);
		tk.append("line").attr("x1",gx(v)).attr("x2",gx(v)).attr("y1",f[3]-1).attr("y2",f[3]-3);
		tk.append("line").attr("y1",gy(v)).attr("y2",gy(v)).attr("x1",f[0]+1).attr("x2",f[0]+3);
		tk.append("line").attr("y1",gy(v)).attr("y2",gy(v)).attr("x1",f[2]-1).attr("x2",f[2]-3);
	});

	g.append("text").attr("x",650).attr("y",note1Y[i]).attr("text-anchor","middle")
		.attr("font-family","Liberation Mono, DejaVu Sans Mono, monospace").attr("font-size",6.5).attr("fill","#222").text(contourNote[i]);
	g.append("text").attr("x",650).attr("y",note2Y[i]).attr("text-anchor","middle")
		.attr("font-family","Liberation Mono, DejaVu Sans Mono, monospace").attr("font-size",5.3).attr("fill","#333").text(irafStamp[i]);
});
</script>
</body>
</html>
